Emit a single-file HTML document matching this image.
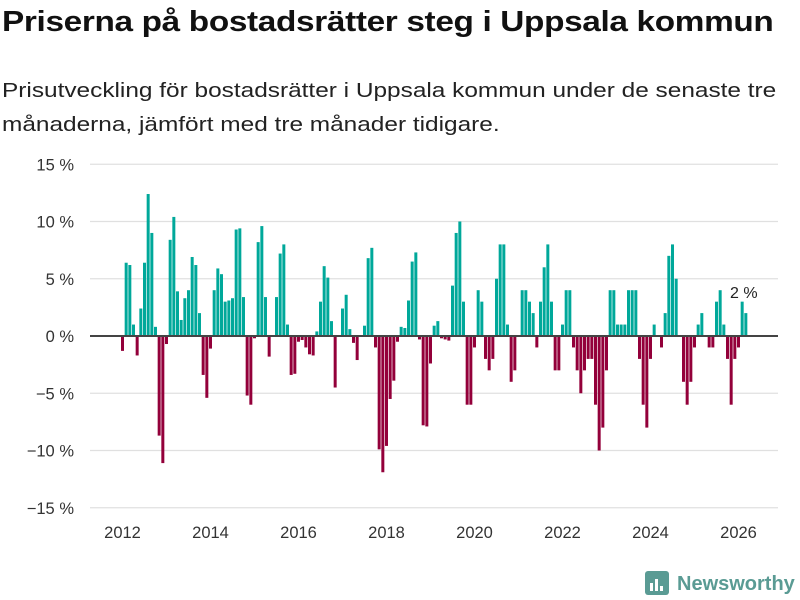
<!DOCTYPE html>
<html><head><meta charset="utf-8"><style>
body{margin:0;background:#fff;font-family:"Liberation Sans",sans-serif;color:#111}
#wrap{position:relative;width:800px;height:600px;overflow:hidden}
h1{position:absolute;left:2px;top:6px;margin:0;font-size:29px;font-weight:bold;letter-spacing:-0.3px;white-space:nowrap;transform:scaleX(1.15);transform-origin:left top}
#sub{position:absolute;left:2px;top:74px;margin:0;font-size:20.5px;line-height:34px;color:#222;white-space:nowrap;transform:scaleX(1.19);transform-origin:left top}
</style></head><body>
<div id="wrap">
<h1>Priserna på bostadsrätter steg i Uppsala kommun</h1>
<p id="sub">Prisutveckling för bostadsrätter i Uppsala kommun under de senaste tre<br>månaderna, jämfört med tre månader tidigare.</p>
<svg id="chart" width="800" height="600" style="position:absolute;left:0;top:0"></svg>
</div>
<script>
const startYear = 2012;
const values = [
-1.3,6.4,6.2,1.0,-1.7,2.4,6.4,12.4,9.0,0.8,-8.7,-11.1,
-0.7,8.4,10.4,3.9,1.4,3.3,4.0,6.9,6.2,2.0,-3.4,-5.4,
-1.1,4.0,5.9,5.4,3.0,3.1,3.3,9.3,9.4,3.4,-5.2,-6.0,
-0.2,8.2,9.6,3.4,-1.8,0,3.4,7.2,8.0,1.0,-3.4,-3.3,
-0.5,-0.35,-1.0,-1.6,-1.7,0.4,3.0,6.1,5.1,1.3,-4.5,0,
2.4,3.6,0.6,-0.6,-2.1,0,0.9,6.8,7.7,-1.0,-9.9,-11.9,
-9.6,-5.5,-3.9,-0.5,0.8,0.7,3.1,6.5,7.3,-0.3,-7.8,-7.9,
-2.4,0.9,1.3,-0.2,-0.3,-0.4,4.4,9.0,10.0,3.0,-6.0,-6.0,
-1.0,4.0,3.0,-2.0,-3.0,-2.0,5.0,8.0,8.0,1.0,-4.0,-3.0,
0,4.0,4.0,3.0,2.0,-1.0,3.0,6.0,8.0,3.0,-3.0,-3.0,
1.0,4.0,4.0,-1.0,-3.0,-5.0,-3.0,-2.0,-2.0,-6.0,-10.0,-8.0,
-3.0,4.0,4.0,1.0,1.0,1.0,4.0,4.0,4.0,-2.0,-6.0,-8.0,
-2.0,1.0,0,-1.0,2.0,7.0,8.0,5.0,0,-4.0,-6.0,-4.0,
-1.0,1.0,2.0,0,-1.0,-1.0,3.0,4.0,1.0,-2.0,-6.0,-2.0,
-1.0,3.0,2.0
];
const yTicks = [15,10,5,0,-5,-10,-15];
const xTickYears = [2012,2014,2016,2018,2020,2022,2024,2026];
const lastLabel = "2 %";

const svg = document.getElementById('chart');
const NS = 'http://www.w3.org/2000/svg';
const x0 = 122.5, pxMonth = 616/168;
const xScale = m => x0 + m * pxMonth;
const yScale = v => 336 - v * 11.45;
function mk(t, a){const e=document.createElementNS(NS,t);for(const k in a)e.setAttribute(k,a[k]);svg.appendChild(e);return e;}

yTicks.forEach(v=>{
  if(v!==0){
    const g=mk('line',{x1:90,x2:778,y1:yScale(v),y2:yScale(v),stroke:'#e0e0e0','stroke-width':1.3});
    
    
  }
  const t=mk('text',{x:74,y:yScale(v)+6,'text-anchor':'end','font-size':16.5,fill:'#333','font-family':'Liberation Sans, sans-serif'});
  t.textContent=(v<0?'−'+(-v):v)+' %';
  
  
});
xTickYears.forEach(yr=>{
  const t=mk('text',{x:xScale((yr-startYear)*12),y:538,'text-anchor':'middle','font-size':16.5,fill:'#333','font-family':'Liberation Sans, sans-serif'});
  t.textContent=yr;
  
  
});
values.forEach((v,i)=>{
  const y1=yScale(Math.max(v,0)), y2=yScale(Math.min(v,0));
  const r=mk('rect',{x:xScale(i)-1.5,y:y1,width:3,height:Math.max(y2-y1,0),fill:v>=0?'#00a89a':'#93003a'});
  
  
});
const z=mk('line',{x1:90,x2:778,y1:336,y2:336,stroke:'#444','stroke-width':2});


const last=values.length-1;
const lbl=mk('text',{x:xScale(last)-2,y:yScale(values[last])-15,'text-anchor':'middle','font-size':16,fill:'#222','font-family':'Liberation Sans, sans-serif'});
lbl.textContent=lastLabel;



// logo
const lg=mk('g',{});


const ic=document.createElementNS(NS,'rect');
ic.setAttribute('x',645);ic.setAttribute('y',571);ic.setAttribute('width',24);ic.setAttribute('height',24);ic.setAttribute('rx',3);ic.setAttribute('fill','#5a9b94');
lg.appendChild(ic);
[[650,583,3,8],[655,579,3,12],[660,586,3,5]].forEach(b=>{const r=document.createElementNS(NS,'rect');r.setAttribute('x',b[0]);r.setAttribute('y',b[1]);r.setAttribute('width',b[2]);r.setAttribute('height',b[3]);r.setAttribute('fill','#fff');lg.appendChild(r);});
const lt=document.createElementNS(NS,'text');
lt.setAttribute('x',677);lt.setAttribute('y',590);lt.setAttribute('font-size',20);lt.setAttribute('font-weight','bold');lt.setAttribute('fill','#5a9b94');lt.setAttribute('font-family','Liberation Sans, sans-serif');
lt.textContent='Newsworthy';
lg.appendChild(lt);
</script>
</body></html>
